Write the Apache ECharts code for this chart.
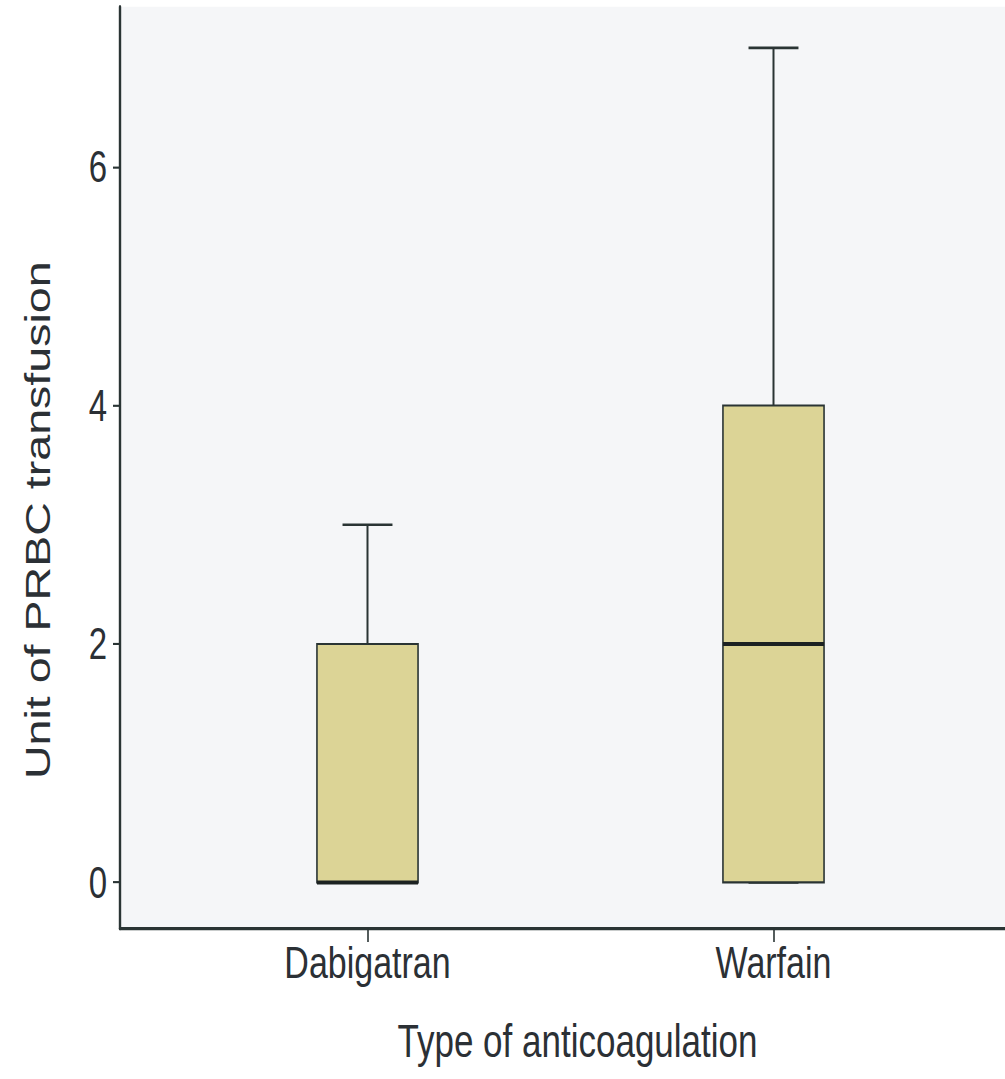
<!DOCTYPE html>
<html>
<head>
<meta charset="utf-8">
<title>Unit of PRBC transfusion by type of anticoagulation</title>
<script src="https://cdn.jsdelivr.net/npm/echarts@6/dist/echarts.min.js"></script>
<style>
  html, body { margin: 0; padding: 0; background: #ffffff; }
  #wrap { width: 1005px; height: 1079px; overflow: hidden; }
  /* the figure is drawn at a compact height and stretched vertically */
  #chart { width: 1005px; height: 811px; transform: scaleY(1.3305); transform-origin: 0 0; }
</style>
</head>
<body>
<div id="wrap"><div id="chart"></div></div>
<script>
// Box plot summaries per anticoagulant (units of PRBC)
const categories = ['Dabigatran', 'Warfain'];
const minValues = [0, 0];
const q1Values = [0, 0];
const medianValues = [0, 2];
const q3Values = [2, 4];
const maxValues = [3, 7];
const yTicks = [0, 2, 4, 6];

const FONT = "'Liberation Sans', Arial, sans-serif";
const INK = '#2b3035';
const LINE = '#2a3434';

const boxData = categories.map((c, i) => [i, minValues[i], q1Values[i], medianValues[i], q3Values[i], maxValues[i]]);

function renderBox(params, api) {
  const x = api.value(0);
  const cx = api.coord([x, 0])[0];
  const py = v => api.coord([x, v])[1];
  const halfBox = api.size([0.249, 0])[0] / 2;
  const halfCap = api.size([0.123, 0])[0] / 2;
  const lo = api.value(1), q1 = api.value(2), med = api.value(3), q3 = api.value(4), hi = api.value(5);
  const thin = { stroke: LINE, lineWidth: 2 };
  return {
    type: 'group',
    children: [
      { type: 'line', shape: { x1: cx, y1: py(q3), x2: cx, y2: py(hi) }, style: thin },
      { type: 'line', shape: { x1: cx, y1: py(lo), x2: cx, y2: py(q1) }, style: thin },
      { type: 'line', shape: { x1: cx - halfCap, y1: py(hi), x2: cx + halfCap, y2: py(hi) }, style: thin },
      { type: 'line', shape: { x1: cx - halfCap, y1: py(lo), x2: cx + halfCap, y2: py(lo) }, style: thin },
      { type: 'rect', shape: { x: cx - halfBox, y: py(q3), width: halfBox * 2, height: py(q1) - py(q3) },
        style: { fill: '#dcd496', stroke: LINE, lineWidth: 1.6 } },
      { type: 'line', shape: { x1: cx - halfBox, y1: py(med), x2: cx + halfBox, y2: py(med) },
        style: { stroke: '#1c2222', lineWidth: 3 } }
    ]
  };
}

const chart = echarts.init(document.getElementById('chart'), null, { renderer: 'svg' });
chart.setOption({
  animation: false,
  backgroundColor: '#ffffff',
  grid: {
    left: 120, right: 0, top: 5, bottom: 113,
    show: true, backgroundColor: '#f5f6f8', borderWidth: 0
  },
  xAxis: {
    type: 'value',
    min: -0.6096, max: 1.5702,
    name: 'Type of anticoagulation',
    nameLocation: 'middle',
    nameGap: 67,
    nameTextStyle: { fontFamily: FONT, fontSize: 35, color: INK, padding: [0, 0, 0, 30] },
    axisLine: { show: true, onZero: false, lineStyle: { color: LINE, width: 2.4 } },
    axisTick: { show: true, length: 10, customValues: [0, 1], lineStyle: { color: LINE, width: 1.6 } },
    axisLabel: {
      customValues: [0, 1],
      formatter: v => categories[Math.round(v)] || '',
      margin: 8,
      fontFamily: FONT, fontSize: 34, color: INK
    },
    splitLine: { show: false }
  },
  yAxis: {
    type: 'value',
    min: -0.388, max: 7.346,
    name: 'Unit of PRBC transfusion',
    nameLocation: 'middle',
    nameGap: 64,
    nameTextStyle: { fontFamily: FONT, fontSize: 35, color: INK, padding: [0, 79, 0, 0] },
    axisLine: { show: true, onZero: false, lineStyle: { color: LINE, width: 2.4 } },
    axisTick: { show: true, length: 7, customValues: yTicks, lineStyle: { color: LINE, width: 1.6 } },
    axisLabel: {
      customValues: yTicks,
      margin: 13,
      fontFamily: FONT, fontSize: 33, color: INK
    },
    splitLine: { show: false }
  },
  series: [{
    type: 'custom',
    renderItem: renderBox,
    encode: { x: 0, y: [1, 2, 3, 4, 5] },
    data: boxData,
    clip: false
  }]
});
</script>
</body>
</html>
